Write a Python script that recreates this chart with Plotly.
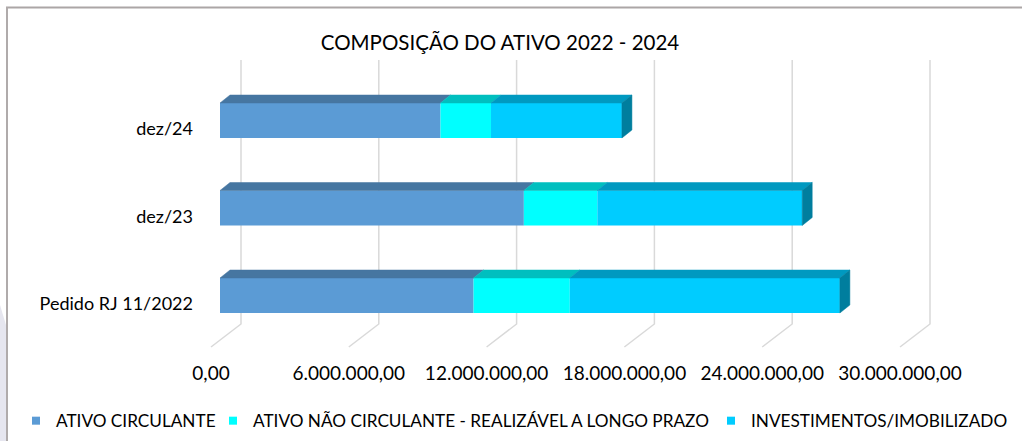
import plotly.graph_objects as go

# ---------------- data ----------------
categories = ["Pedido RJ 11/2022", "dez/23", "dez/24"]
ativo_circulante = [11040000, 13230000, 9600000]
ativo_nao_circulante = [4190000, 3200000, 2200000]
investimentos = [11760000, 8920000, 5700000]
tick_values = [0, 6000000, 12000000, 18000000, 24000000, 30000000]
tick_labels = ["0,00", "6.000.000,00", "12.000.000,00", "18.000.000,00",
               "24.000.000,00", "30.000.000,00"]
series_names = ["ATIVO CIRCULANTE",
                "ATIVO NÃO CIRCULANTE - REALIZÁVEL A LONGO PRAZO",
                "INVESTIMENTOS/IMOBILIZADO"]

# ---------------- styling / geometry ----------------
W, H = 1022, 441
ML, MR, MT, MB = 200, 42, 55, 91
PW, PH = W - ML - MR, H - MT - MB
X0PX = 220.0            # pixel of value 0 on bar front plane
PXU = 137.8 / 6e6       # pixels per unit
YC0 = 295.5             # pixel of bottom category centre
PYU = 87.5              # pixels per category
BARW = 0.4

def px2x(px):
    return (px - X0PX) / PXU

def py2v(py):
    return (YC0 - py) / PYU

XR = [px2x(ML), px2x(ML + PW)]
YR = [py2v(MT + PH), py2v(MT)]

front_cols = ["#5B9BD5", "#00FFFF", "#00CCFF"]
top_cols = ["#4676A1", "#00BFBF", "#0099C0"]
side_col = "#007E9E"
FONT = "Lato, sans-serif"

DX = 10 / PXU   # depth offset in x units
DY = 8 / PYU    # depth offset in category units

fig = go.Figure()
ypos = list(range(len(categories)))
series = [ativo_circulante, ativo_nao_circulante, investimentos]

bases = [0] * len(categories)
for k, vals in enumerate(series):
    fig.add_trace(go.Bar(
        y=ypos, x=vals, base=bases[:], orientation="h", width=BARW,
        marker=dict(color=front_cols[k], line=dict(width=0)),
        showlegend=False, name=series_names[k],
    ))
    # top face parallelograms
    xs, ys = [], []
    for i, v in enumerate(vals):
        x0 = bases[i]
        x1 = bases[i] + v
        vt = ypos[i] + BARW / 2
        xs += [x0, x1, x1 + DX, x0 + DX, x0, None]
        ys += [vt, vt, vt + DY, vt + DY, vt, None]
    fig.add_trace(go.Scatter(
        x=xs, y=ys, mode="lines", fill="toself", fillcolor=top_cols[k],
        line=dict(color=top_cols[k], width=0.5), showlegend=False,
        hoverinfo="skip",
    ))
    bases = [b + v for b, v in zip(bases, vals)]

# right side faces of the stacked bars
xs, ys = [], []
for i, tot in enumerate(bases):
    vt = ypos[i] + BARW / 2
    vb = ypos[i] - BARW / 2
    xs += [tot, tot + DX, tot + DX, tot, tot, None]
    ys += [vt, vt + DY, vb + DY, vb, vt, None]
fig.add_trace(go.Scatter(
    x=xs, y=ys, mode="lines", fill="toself", fillcolor=side_col,
    line=dict(color=side_col, width=0.5), showlegend=False, hoverinfo="skip",
))

# legend entries (small squares), one legend box per entry
legend_ids = ["legend", "legend2", "legend3"]
for k in range(3):
    fig.add_trace(go.Scatter(
        x=[None], y=[None], mode="markers", name=series_names[k],
        legend=legend_ids[k],
        marker=dict(symbol="square", size=8, color=front_cols[k]),
    ))

# invisible trace on the label axis so it is drawn
fig.add_trace(go.Scatter(x=[None], y=[None], xaxis="x2", showlegend=False))

# 3D grid lines (back wall + floor)
shapes = []
for t in tick_values:
    xb = t + 21 / PXU
    xf = t - 9 / PXU
    shapes.append(dict(type="path", xref="x", yref="y", layer="below",
                       path=f"M{xb},{py2v(60)} L{xb},{py2v(324)} L{xf},{py2v(347)}",
                       line=dict(color="#D9D9D9", width=1.5)))

# chart border
def pxp(px):
    return (px - ML) / PW

def pyp(py):
    return 1 - (py - MT) / PH

shapes.append(dict(type="path", xref="paper", yref="paper", layer="below",
                   path=(f"M{pxp(0)},{pyp(305)} L{pxp(6)},{pyp(325)} "
                         f"L{pxp(6)},{pyp(441)} L{pxp(0)},{pyp(441)} Z"),
                   fillcolor="#E6E6EF", line=dict(width=0)))
shapes.append(dict(type="line", xref="paper", yref="paper",
                   x0=pxp(6), x1=pxp(1022), y0=pyp(7.5), y1=pyp(7.5),
                   line=dict(color="#ABA6A6", width=2)))
shapes.append(dict(type="line", xref="paper", yref="paper",
                   x0=pxp(7), x1=pxp(7), y0=pyp(7), y1=pyp(441),
                   line=dict(color="#B0ABAB", width=2)))

legend_box_x = [16, 213, 711]
leg_common = dict(orientation="h", xanchor="left", y=pyp(421), yanchor="middle",
                  font=dict(family=FONT, size=17.2, color="#000000"),
                  bgcolor="rgba(0,0,0,0)", itemclick=False, itemdoubleclick=False)

fig.update_layout(
    width=W, height=H,
    margin=dict(l=ML, r=MR, t=MT, b=MB, pad=0, autoexpand=False),
    paper_bgcolor="white", plot_bgcolor="white",
    barmode="overlay",
    font=dict(family=FONT, size=17, color="#000000"),
    title=dict(text="COMPOSIÇÃO DO ATIVO 2022 - 2024", x=500 / W, xanchor="center",
               y=1 - 43 / H, yanchor="middle", yref="container",
               font=dict(family=FONT, size=20.5, color="#000000")),
    xaxis=dict(range=XR, showgrid=False, zeroline=False, showticklabels=False,
               showline=False, fixedrange=True, automargin=False),
    xaxis2=dict(range=[(ML - 211) / PXU, (ML + PW - 211) / PXU],
                overlaying="x", side="bottom", anchor="y", automargin=False,
                tickvals=tick_values, ticktext=tick_labels,
                showgrid=False, zeroline=False, showline=False, ticks="",
                ticklabelstandoff=10,
                tickfont=dict(family=FONT, size=19, color="#000000")),
    yaxis=dict(range=YR, showgrid=False, zeroline=False, showline=False,
               automargin=False,
               tickvals=[p - 8.5 / PYU for p in ypos], ticktext=categories,
               ticks="", ticklabelstandoff=6,
               tickfont=dict(family=FONT, size=18, color="#000000")),
    legend=dict(x=pxp(legend_box_x[0]), **leg_common),
    legend2=dict(x=pxp(legend_box_x[1]), **leg_common),
    legend3=dict(x=pxp(legend_box_x[2]), **leg_common),
    shapes=shapes,
)

fig.write_html("out.html", config={"displayModeBar": False},
               post_script="document.body.style.margin='0';")
